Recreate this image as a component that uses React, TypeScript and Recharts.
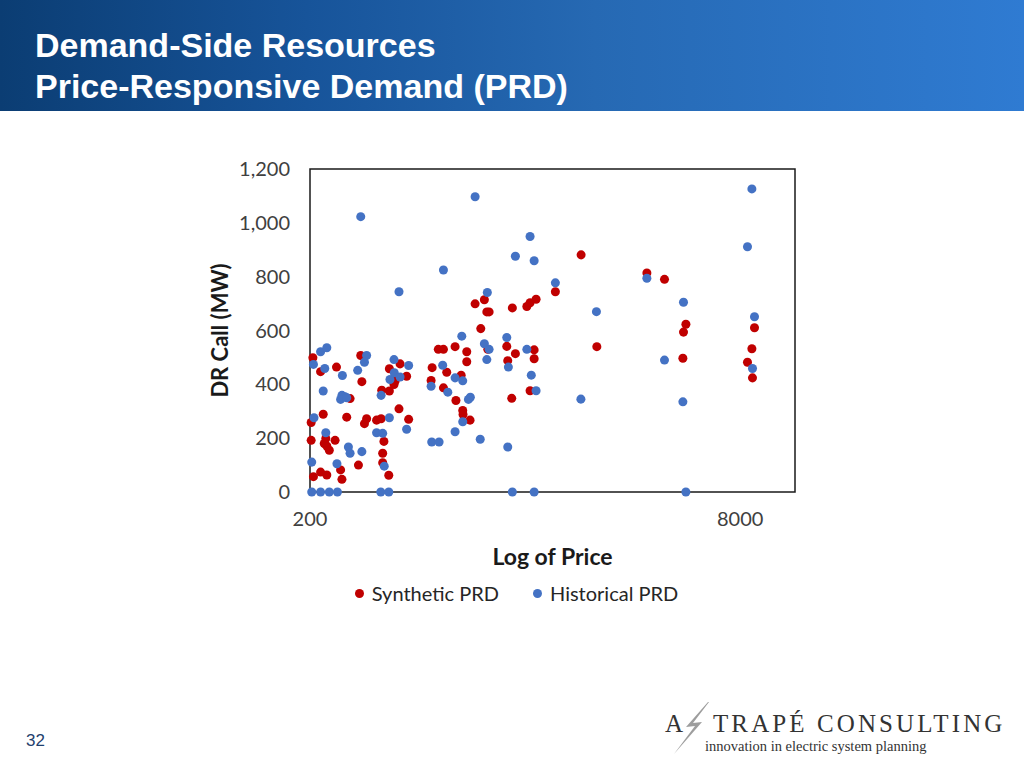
import React from "react";
import { ScatterChart, Scatter, XAxis, YAxis, ZAxis, Legend, ReferenceArea } from "recharts";

// ---- Data ----
const synthPrice = [
  205, 219, 251, 309, 312, 282, 224, 274, 202, 325, 319, 354, 368, 202, 229, 226, 231, 248, 236, 206,
  219, 231, 260, 263, 303, 377, 373, 373, 393, 370, 395, 411, 415, 395, 433, 458, 429, 466, 570, 565,
  601, 628, 694, 646, 628, 699, 731, 767, 767, 741, 743, 789, 865, 919, 1081, 1164, 1090, 1367, 1367, 1320,
  1128, 2340, 824, 892, 911, 929, 1134, 1284, 1320, 1390, 1640, 2045, 3594, 4180, 5022, 4920, 4894, 9044, 8844, 8516,
  8890,
];
const synthMW = [
  499, 447, 464, 507, 410, 347, 289, 278, 258, 272, 254, 267, 272, 192, 199, 180, 171, 192, 155, 57,
  74, 63, 82, 47, 100, 188, 144, 109, 62, 378, 375, 399, 412, 458, 476, 430, 309, 270, 462, 414,
  530, 530, 540, 445, 387, 340, 434, 521, 484, 303, 288, 267, 607, 530, 541, 514, 488, 528, 495, 376,
  348, 540, 699, 714, 669, 669, 684, 689, 703, 716, 744, 881, 814, 790, 623, 594, 497, 610, 532, 482,
  424,
];
const histPrice = [
  309, 628, 429, 824, 1320, 1164, 1367, 1640, 915, 2332, 735, 1081, 892, 929, 1284, 911, 1096, 1334, 741, 1390,
  778, 791, 741, 2041, 861, 1090, 1134, 1367, 219, 231, 206, 227, 264, 301, 325, 319, 411, 412, 466, 433,
  397, 224, 263, 270, 260, 274, 368, 207, 395, 458, 229, 354, 373, 278, 282, 312, 203, 252, 378, 568,
  605, 624, 694, 565, 652, 694, 203, 219, 236, 253, 367, 393, 3594, 4920, 8516, 8844, 9044, 4180, 8890, 4894,
  5022,
];
const histMW = [
  1023, 825, 744, 1097, 949, 876, 859, 777, 741, 670, 579, 574, 551, 530, 530, 492, 464, 434, 413, 376,
  344, 352, 261, 345, 196, 167, 0, 0, 521, 536, 474, 459, 433, 452, 507, 482, 492, 443, 470, 427,
  418, 375, 359, 354, 344, 350, 359, 276, 276, 233, 220, 220, 218, 167, 144, 150, 111, 105, 96, 186,
  186, 471, 424, 393, 371, 224, 0, 0, 0, 0, 0, 0, 794, 705, 911, 1126, 651, 490, 459, 335,
  0,
];
const xTicks = [200, 8000];
const yTicks = [0, 200, 400, 600, 800, 1000, 1200];
const xDomain = [200, 12800];
const yDomain = [0, 1200];
const seriesNames = ["Synthetic PRD", "Historical PRD"];
const seriesColors = ["#c00000", "#4472c4"];
const titleLines = ["Demand-Side Resources", "Price-Responsive Demand (PRD)"];
const xLabel = "Log of Price";
const yLabel = "DR Call (MW)";
const pageNumber = "32";

const synthetic = synthPrice.map((p, i) => ({ price: p, mw: synthMW[i] }));
const historical = histPrice.map((p, i) => ({ price: p, mw: histMW[i] }));

const FONT = "Lato, 'Open Sans', sans-serif";
const SERIF = "'Liberation Serif', 'DejaVu Serif', serif";

const renderLegend = () => (
  <div
    style={{
      display: "flex",
      justifyContent: "center",
      alignItems: "center",
      height: 24,
      paddingLeft: 38,
      fontFamily: FONT,
      fontSize: 20,
      color: "#262626",
    }}
  >
    {seriesNames.map((n, i) => (
      <span key={n} style={{ display: "inline-flex", alignItems: "center", marginRight: i === 0 ? 34 : 0 }}>
        <span
          style={{
            display: "inline-block",
            width: 9,
            height: 9,
            borderRadius: "50%",
            background: seriesColors[i],
            marginRight: 8,
          }}
        />
        {n}
      </span>
    ))}
  </div>
);

const YLabel = (props: any) => {
  const vb = props.viewBox || {};
  const x = vb.x + 19;
  const y = vb.y + vb.height / 2;
  return (
    <text
      x={x}
      y={y}
      transform={`rotate(-90, ${x}, ${y})`}
      textAnchor="middle"
      dominantBaseline="central"
      fontFamily={FONT}
      fontWeight={700}
      fontSize={22}
      fill="#1a1a1a"
    >
      {yLabel}
    </text>
  );
};

const XLabel = (props: any) => {
  const vb = props.viewBox || {};
  const x = vb.x + vb.width / 2;
  const y = vb.y + 64;
  return (
    <text x={x} y={y} textAnchor="middle" dominantBaseline="central" fontFamily={FONT} fontWeight={700} fontSize={23} fill="#1a1a1a">
      {xLabel}
    </text>
  );
};

export default function App() {
  return (
    <div
      style={{
        position: "absolute",
        left: 0,
        top: 0,
        width: 1024,
        height: 768,
        background: "#ffffff",
        overflow: "hidden",
      }}
    >
      <div
        style={{
          position: "absolute",
          left: 0,
          top: 0,
          width: 1024,
          height: 111,
          background: "linear-gradient(to right, #0b3d73 0%, #17549a 30%, #2669b3 58%, #2f7bd2 100%)",
        }}
      >
        {titleLines.map((t, i) => (
          <div
            key={t}
            style={{
              position: "absolute",
              left: 35,
              top: 26 + i * 41,
              fontFamily: "'Liberation Sans', Arial, sans-serif",
              fontWeight: 700,
              fontSize: 34,
              lineHeight: "38px",
              color: "#ffffff",
              whiteSpace: "nowrap",
            }}
          >
            {t}
          </div>
        ))}
      </div>

      <div style={{ position: "absolute", left: 200, top: 150 }}>
        <ScatterChart width={620} height={455} margin={{ top: 19, right: 25, bottom: 0, left: 0 }}>
          <XAxis
            type="number"
            dataKey="price"
            scale="log"
            domain={xDomain}
            ticks={xTicks}
            axisLine={false}
            tickLine={false}
            tickSize={0}
            tickMargin={20}
            height={89}
            tick={{ fontFamily: FONT, fontSize: 20, fill: "#404040" }}
            label={<XLabel />}
          />
          <YAxis
            type="number"
            dataKey="mw"
            domain={yDomain}
            ticks={yTicks}
            axisLine={false}
            tickLine={false}
            tickSize={0}
            tickMargin={20}
            width={110}
            tickFormatter={(v: number) => v.toLocaleString("en-US")}
            tick={{ fontFamily: FONT, fontSize: 20, fill: "#404040" }}
            label={<YLabel />}
          />
          <ZAxis range={[64, 64]} />
          <ReferenceArea
            x1={xDomain[0]}
            x2={xDomain[1]}
            y1={yDomain[0]}
            y2={yDomain[1]}
            fill="none"
            stroke="#1a1a1a"
            strokeWidth={1.5}
          />
          <Legend verticalAlign="bottom" content={renderLegend} />
          <Scatter name={seriesNames[0]} data={synthetic} fill={seriesColors[0]} isAnimationActive={false} />
          <Scatter name={seriesNames[1]} data={historical} fill={seriesColors[1]} isAnimationActive={false} />
        </ScatterChart>
      </div>

      <div
        style={{
          position: "absolute",
          left: 26,
          top: 731,
          fontFamily: "'Liberation Sans', Arial, sans-serif",
          fontSize: 17,
          lineHeight: "20px",
          color: "#1f3f6e",
        }}
      >
        {pageNumber}
      </div>

      <svg width={44} height={56} style={{ position: "absolute", left: 668, top: 700 }}>
        <polygon points="40,2 18,27 27,26 6,54 34,22 25,23 41,2" fill="#9d9d9d" />
      </svg>
      <div
        style={{
          position: "absolute",
          left: 665,
          top: 709,
          fontFamily: SERIF,
          fontSize: 25,
          lineHeight: "30px",
          color: "#333333",
          whiteSpace: "nowrap",
        }}
      >
        A
      </div>
      <div
        style={{
          position: "absolute",
          left: 713,
          top: 709,
          fontFamily: SERIF,
          fontSize: 25,
          lineHeight: "30px",
          letterSpacing: 3.1,
          color: "#333333",
          whiteSpace: "nowrap",
        }}
      >
        TRAPÉ CONSULTING
      </div>
      <div
        style={{
          position: "absolute",
          left: 705,
          top: 738,
          fontFamily: SERIF,
          fontSize: 14.5,
          color: "#333333",
          whiteSpace: "nowrap",
        }}
      >
        innovation in electric system planning
      </div>
    </div>
  );
}
